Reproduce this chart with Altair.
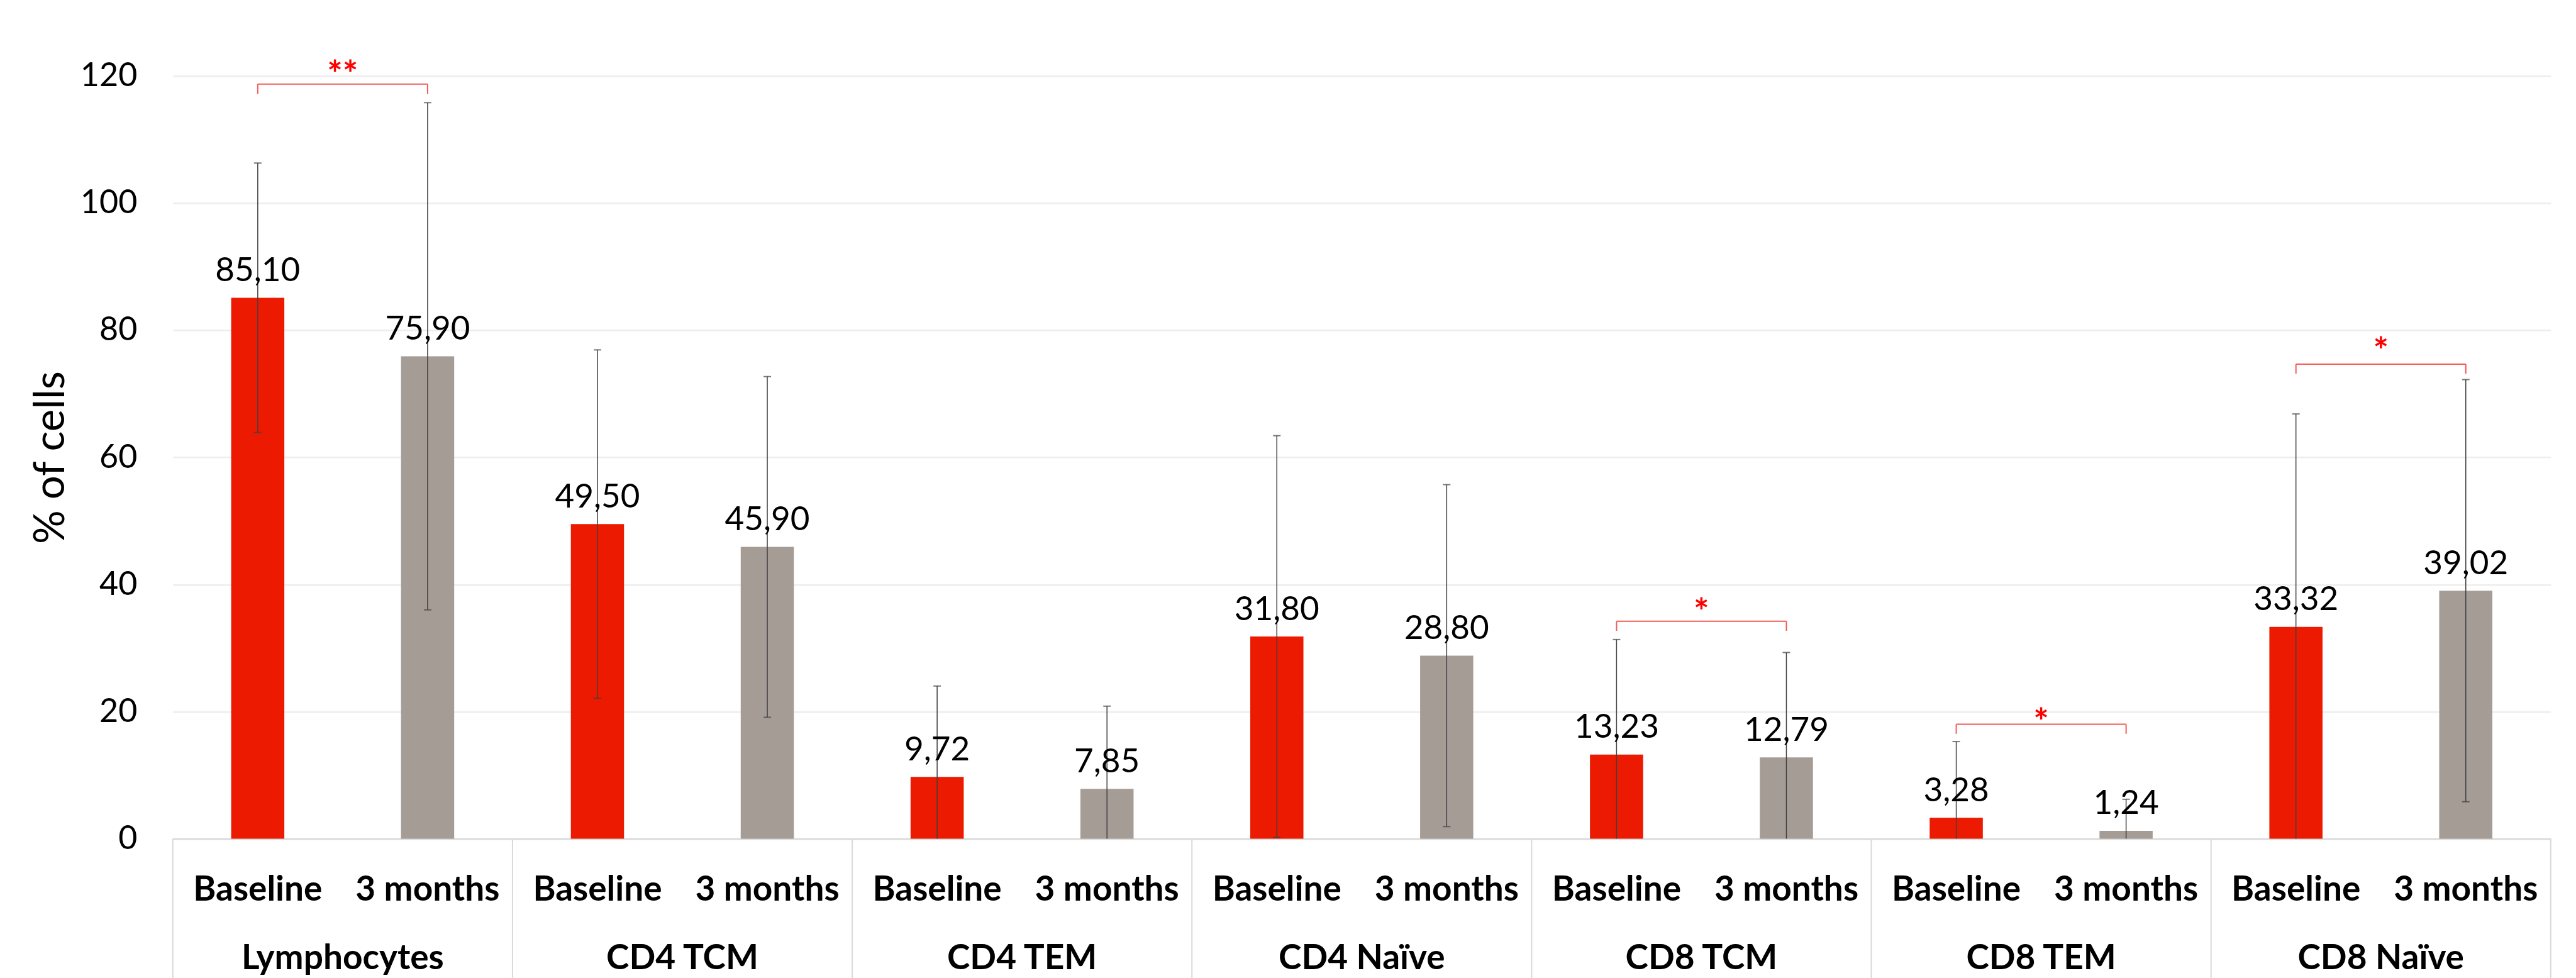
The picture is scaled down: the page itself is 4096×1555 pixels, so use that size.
import altair as alt
import pandas as pd

# ---- data ----
groups = ["Lymphocytes", "CD4 TCM", "CD4 TEM", "CD4 Naïve", "CD8 TCM", "CD8 TEM", "CD8 Naïve"]
times = ["Baseline", "3 months"]
baseline_mean = [85.10, 49.50, 9.72, 31.80, 13.23, 3.28, 33.32]
month3_mean = [75.90, 45.90, 7.85, 28.80, 12.79, 1.24, 39.02]
baseline_sd = [21.2, 27.4, 14.3, 31.6, 18.1, 12.0, 33.5]
month3_sd = [39.9, 26.8, 13.0, 26.9, 16.5, 4.96, 33.2]
y_ticks = [0, 20, 40, 60, 80, 100, 120]

sig_groups = ["Lymphocytes", "CD8 TCM", "CD8 TEM", "CD8 Naïve"]
sig_marks = ["**", "*", "*", "*"]
bracket_top = [118.7, 34.2, 18.0, 74.65]
bracket_end = [117.2, 32.7, 16.5, 73.15]
star_pos = [121.5, 36.9, 19.5, 77.9]

# ---- tables ----
rows = []
for i, g in enumerate(groups):
    for t, m, sd in ((times[0], baseline_mean[i], baseline_sd[i]), (times[1], month3_mean[i], month3_sd[i])):
        rows.append({"key": f"{g}|{t}", "group": g, "time": t, "mean": m,
                     "hi": m + sd, "lo": m - sd, "label": f"{m:.2f}".replace(".", ",")})
df = pd.DataFrame(rows)
keys = list(df["key"])

df_groups = pd.DataFrame({"key": [f"{g}|{times[0]}" for g in groups], "group": groups})
df_last = pd.DataFrame({"key": [f"{groups[-1]}|{times[1]}"]})

df_br = pd.DataFrame({
    "k1": [f"{g}|{times[0]}" for g in sig_groups],
    "k2": [f"{g}|{times[1]}" for g in sig_groups],
    "top": bracket_top, "end": bracket_end, "star": star_pos, "mark": sig_marks,
})
br_rows = []
for i, g in enumerate(sig_groups):
    for t in times:
        br_rows.append({"key": f"{g}|{t}", "top": bracket_top[i], "end": bracket_end[i]})
df_br_ends = pd.DataFrame(br_rows)

# ---- layout (scaled 0.951) ----
W = 3781
H = 1212.8
half = W / 28.0

RED = "#ec1a00"
GREY = "#a59c96"
ERR = "#404040"
BR = "#f25a55"
LINE = "#d9d9d9"

xscale = alt.Scale(domain=keys, paddingInner=0, paddingOuter=0)
xaxis = alt.Axis(title=None, labelExpr="split(datum.value, '|')[1]", labelFont="Lato",
                 labelFontWeight="bold", labelFontSize=55, labelColor="black", labelAngle=0,
                 labelBaseline="alphabetic", labelPadding=98, ticks=False, tickSize=0,
                 labelLimit=1000, domainColor=LINE, domainWidth=2.5, grid=False,
                 labelOverlap=False)
yscale = alt.Scale(domain=[0, 120], nice=False, zero=True)
yaxis = alt.Axis(values=y_ticks, title="% of cells", titleFont="Lato", titleFontSize=67,
                 titleFontWeight="normal", titleColor="black", titleAngle=270, titleX=-173,
                 titleY=H / 2, titleAlign="center", titleBaseline="alphabetic",
                 labelFont="Lato", labelFontSize=52, labelColor="black", labelPadding=57,
                 ticks=False, tickSize=0, domain=False, grid=True, gridColor="#ededed",
                 gridWidth=2.5)


def xenc(field):
    return alt.X(f"{field}:N", scale=xscale, axis=xaxis, title=None)


def yenc(field):
    return alt.Y(f"{field}:Q", scale=yscale, axis=yaxis)


base = alt.Chart(df)

bars = base.mark_bar(width=alt.RelativeBandSize(0.313)).encode(
    x=xenc("key"), y=yenc("mean"),
    color=alt.Color("time:N", scale=alt.Scale(domain=times, range=[RED, GREY]), legend=None),
)
err = base.mark_rule(color=ERR, strokeWidth=1.5, clip=True).encode(
    x=xenc("key"), y=yenc("hi"), y2=alt.Y2("lo"))
cap_hi = base.mark_tick(color=ERR, thickness=2, size=12, clip=True).encode(
    x=xenc("key"), y=yenc("hi"))
cap_lo = base.mark_tick(color=ERR, thickness=2, size=12, clip=True).encode(
    x=xenc("key"), y=yenc("lo"))
vals = base.mark_text(font="Lato", fontSize=53, baseline="alphabetic", dy=-26.6,
                      color="black").encode(x=xenc("key"), y=yenc("mean"), text="label:N")

glabels = alt.Chart(df_groups).mark_text(
    font="Lato", fontWeight="bold", fontSize=55, baseline="alphabetic", color="black",
    xOffset=half).encode(x=xenc("key"), y=alt.value(H + 208), text="group:N")
div_left = alt.Chart(df_groups).mark_rule(color=LINE, strokeWidth=2, xOffset=-half).encode(
    x=xenc("key"), y=alt.value(H), y2=alt.value(H + 240))
div_right = alt.Chart(df_last).mark_rule(color=LINE, strokeWidth=2, xOffset=half).encode(
    x=xenc("key"), y=alt.value(H), y2=alt.value(H + 240))

br_h = alt.Chart(df_br).mark_rule(color=BR, strokeWidth=2).encode(
    x=xenc("k1"), x2=alt.X2("k2"), y=yenc("top"))
br_v = alt.Chart(df_br_ends).mark_rule(color=BR, strokeWidth=2).encode(
    x=xenc("key"), y=yenc("top"), y2=alt.Y2("end"))
stars = alt.Chart(df_br).mark_text(font="Lato", fontWeight="bold", fontSize=58, color="#ff0000",
                                   baseline="alphabetic", dy=32, xOffset=half).encode(
    x=xenc("k1"), y=yenc("star"), text="mark:N")

chart = alt.layer(bars, err, cap_hi, cap_lo, vals, br_h, br_v, stars, glabels, div_left, div_right).properties(
    width=W, height=H,
    padding={"left": 266.8, "top": 112.7, "right": 32, "bottom": 221.5},
    autosize=alt.AutoSizeParams(type="none"),
    background="white",
).configure_view(stroke=None)

chart.save("out.html", embed_options={"renderer": "svg", "actions": False})
